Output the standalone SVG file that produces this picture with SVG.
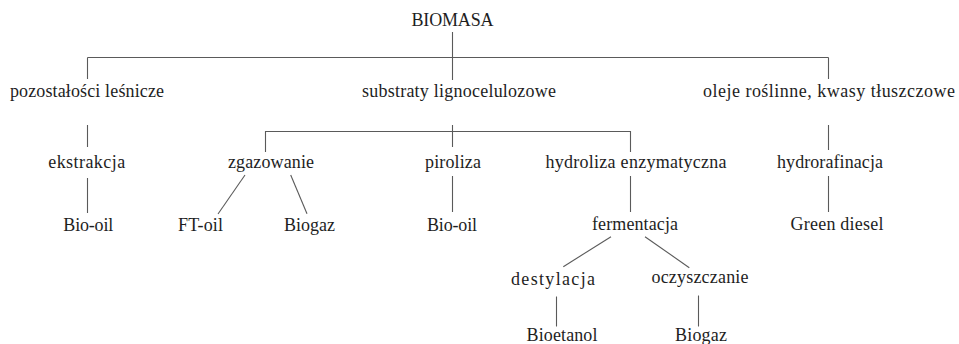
<svg xmlns="http://www.w3.org/2000/svg" width="959" height="344" viewBox="0 0 959 344">
<style>
text{font-family:'Liberation Serif','DejaVu Serif',serif;font-size:18px;fill:#1e1e1e;text-anchor:middle}
.c path{fill:none;stroke:#5a5a5a;stroke-width:1.1}
</style>
<rect width="959" height="344" fill="#ffffff"/>
<g class="c" id="connectors">
<path d="M452.5 32V80"/>
<path d="M87.5 57.5H828.5"/>
<path d="M87.5 57.5V79"/>
<path d="M828.5 57.5V79"/>
<path d="M87.5 125V147"/>
<path d="M452.5 125V147"/>
<path d="M828.5 125V150"/>
<path d="M265.5 152V131.5H630.5V152"/>
<path d="M87.5 178V213"/>
<path d="M245 175L218 214"/>
<path d="M290.7 175L307 213.7"/>
<path d="M452.5 176V212"/>
<path d="M630.5 176V212"/>
<path d="M828.5 176V212"/>
<path d="M611 236.7L563.3 266.7"/>
<path d="M645 236.7L689.3 267.7"/>
<path d="M556.5 296.5V326.5"/>
<path d="M698.5 295.5V326.5"/>
</g>
<g id="n-biomasa"><text x="452.5" y="26" textLength="82" lengthAdjust="spacing">BIOMASA</text></g>
<g id="n-pozostalosci"><text x="87" y="97" textLength="154" lengthAdjust="spacing">pozostałości leśnicze</text></g>
<g id="n-substraty"><text x="459" y="97" textLength="194" lengthAdjust="spacing">substraty lignocelulozowe</text></g>
<g id="n-oleje"><text x="829" y="97" textLength="252" lengthAdjust="spacing">oleje roślinne, kwasy tłuszczowe</text></g>
<g id="n-ekstrakcja"><text x="86.7" y="168" textLength="77" lengthAdjust="spacing">ekstrakcja</text></g>
<g id="n-zgazowanie"><text x="271" y="168" textLength="86" lengthAdjust="spacing">zgazowanie</text></g>
<g id="n-piroliza"><text x="453" y="168" textLength="56" lengthAdjust="spacing">piroliza</text></g>
<g id="n-hydroliza"><text x="636" y="168" textLength="181" lengthAdjust="spacing">hydroliza enzymatyczna</text></g>
<g id="n-hydrorafinacja"><text x="830" y="168" textLength="106" lengthAdjust="spacing">hydrorafinacja</text></g>
<g id="n-biooil1"><text x="88.3" y="231" textLength="50" lengthAdjust="spacing">Bio-oil</text></g>
<g id="n-ftoil"><text x="200.5" y="231" textLength="45" lengthAdjust="spacing">FT-oil</text></g>
<g id="n-biogaz1"><text x="309.5" y="231" textLength="51" lengthAdjust="spacing">Biogaz</text></g>
<g id="n-biooil2"><text x="452" y="231" textLength="50" lengthAdjust="spacing">Bio-oil</text></g>
<g id="n-fermentacja"><text x="635" y="230" textLength="86" lengthAdjust="spacing">fermentacja</text></g>
<g id="n-greendiesel"><text x="837" y="230" textLength="93" lengthAdjust="spacing">Green diesel</text></g>
<g id="n-destylacja"><text x="553" y="285" textLength="84" lengthAdjust="spacing">destylacja</text></g>
<g id="n-oczyszczanie"><text x="700" y="283" textLength="97" lengthAdjust="spacing">oczyszczanie</text></g>
<g id="n-bioetanol"><text x="562" y="341" textLength="71" lengthAdjust="spacing">Bioetanol</text></g>
<g id="n-biogaz2"><text x="701" y="341" textLength="52" lengthAdjust="spacing">Biogaz</text></g>
</svg>
